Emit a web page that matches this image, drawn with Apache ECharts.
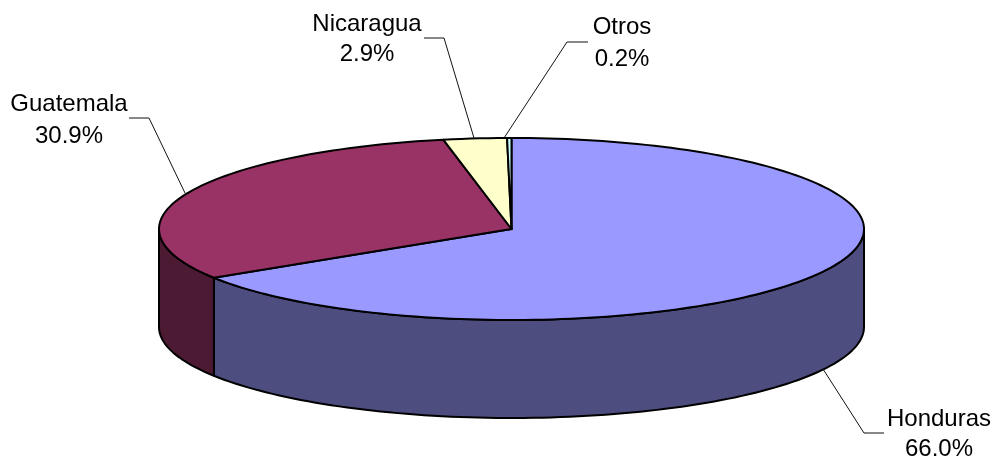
<!DOCTYPE html>
<html>
<head>
<meta charset="utf-8">
<style>html,body{margin:0;padding:0;background:#fff}#c{width:995px;height:457px}</style>
<script src="https://cdn.jsdelivr.net/npm/echarts@6/dist/echarts.min.js"></script>
</head>
<body>
<div id="c"></div>
<script>
var categories = ['Honduras', 'Guatemala', 'Nicaragua', 'Otros'];
var shares = [66.0, 30.9, 2.9, 0.2];
var topColors = ['#9999FF', '#993366', '#FFFFCC', '#CCFFFF'];
var sideColors = ['#4D4D80', '#4D1A33', '#80805F', '#668080'];

// layout of the drawing (not data)
var CX = 511.5, CY = 229, RX = 352.5, RY = 91, DEPTH = 98;
var leaderPaths = [
  [[823, 369], [864, 433], [884, 433]],
  [[185, 193], [149, 118], [129, 118]],
  [[474, 138], [444, 38], [424, 38]],
  [[504, 138], [567, 42], [588, 42]]
];
var labelAnchors = [[939, 419, 449], [69, 104, 136], [367, 24, 54], [622, 27, 59]];

var total = shares.reduce(function (a, b) { return a + b; }, 0);
function pt(deg, dy) {
  var r = deg * Math.PI / 180;
  return [CX + RX * Math.sin(r), CY - RY * Math.cos(r) + (dy || 0)];
}
function arc(a0, a1, dy) {
  var out = [], n = Math.max(2, Math.ceil(Math.abs(a1 - a0) / 1.5));
  for (var i = 0; i <= n; i++) out.push(pt(a0 + (a1 - a0) * i / n, dy));
  return out;
}
function renderItem(params, api) {
  var i = params.dataIndex, before = 0;
  for (var k = 0; k < i; k++) before += shares[k];
  var a0 = before / total * 360;
  var a1 = a0 + api.value(0) / total * 360;
  var kids = [];
  var s0 = Math.max(a0, 90), s1 = Math.min(a1, 270);
  if (s1 > s0) {
    kids.push({
      type: 'polygon', z2: 1,
      shape: { points: arc(s0, s1, 0).concat(arc(s1, s0, DEPTH)) },
      style: { fill: sideColors[i], stroke: '#000', lineWidth: 2, lineJoin: 'round' }
    });
  }
  kids.push({
    type: 'polygon', z2: 2,
    shape: { points: [[CX, CY]].concat(arc(a0, a1, 0)) },
    style: { fill: topColors[i], stroke: '#000', lineWidth: 2, lineJoin: 'round' }
  });
  kids.push({
    type: 'polyline', z2: 3,
    shape: { points: leaderPaths[i] },
    style: { fill: null, stroke: '#111', lineWidth: 1 }
  });
  var font = '24px "Liberation Sans", Arial, sans-serif';
  kids.push({
    type: 'text', z2: 4,
    style: { x: labelAnchors[i][0], y: labelAnchors[i][1], text: categories[i], font: font, fill: '#000', align: 'center', verticalAlign: 'middle' }
  });
  kids.push({
    type: 'text', z2: 4,
    style: { x: labelAnchors[i][0], y: labelAnchors[i][2], text: api.value(0).toFixed(1) + '%', font: font, fill: '#000', align: 'center', verticalAlign: 'middle' }
  });
  return { type: 'group', children: kids };
}
var chart = echarts.init(document.getElementById('c'), null, { renderer: 'canvas' });
chart.setOption({
  animation: false,
  backgroundColor: '#fff',
  series: [{
    type: 'custom',
    coordinateSystem: 'none',
    silent: true,
    renderItem: renderItem,
    data: shares.map(function (v) { return [v]; })
  }]
});
</script>
</body>
</html>
